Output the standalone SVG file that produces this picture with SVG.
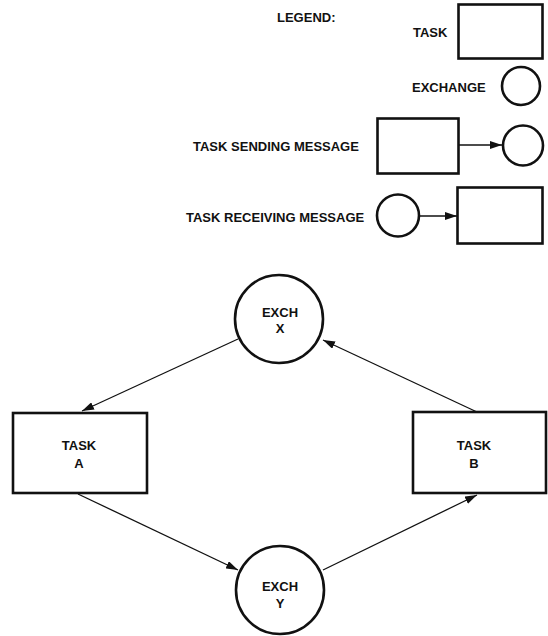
<svg xmlns="http://www.w3.org/2000/svg" width="548" height="636" viewBox="0 0 548 636">
<style>
.t{font-family:"Liberation Sans",Arial,sans-serif;font-weight:bold;font-size:13px;fill:#111}
.c{text-anchor:middle}
.box{fill:#fff;stroke:#111;stroke-width:2.6}
.ln{fill:none;stroke:#111;stroke-width:1.3}
</style>
<defs>
<marker id="ah" markerUnits="userSpaceOnUse" markerWidth="12" markerHeight="8" refX="12" refY="4" orient="auto">
<path d="M0,0 L12,4 L0,8 z" fill="#111"/>
</marker>
</defs>
<rect width="548" height="636" fill="#fff"/>
<g id="legend">
<text class="t" x="277" y="22">LEGEND:</text>
<text class="t" x="413" y="37">TASK</text>
<rect class="box" x="458.5" y="4.5" width="84" height="54"/>
<text class="t" x="412" y="92">EXCHANGE</text>
<circle class="box" cx="521" cy="86" r="19"/>
<text class="t" x="193" y="151">TASK SENDING MESSAGE</text>
<rect class="box" x="377.5" y="118.5" width="81" height="55"/>
<line class="ln" x1="459" y1="145" x2="502" y2="145" marker-end="url(#ah)"/>
<circle class="box" cx="523" cy="145.5" r="20"/>
<text class="t" x="186" y="222">TASK RECEIVING MESSAGE</text>
<circle class="box" cx="398" cy="215.5" r="21"/>
<line class="ln" x1="419" y1="216" x2="457" y2="216" marker-end="url(#ah)"/>
<rect class="box" x="457.5" y="187.5" width="85" height="56"/>
</g>
<g id="connectors">
<line class="ln" x1="238" y1="339" x2="82" y2="411" marker-end="url(#ah)"/>
<line class="ln" x1="477" y1="412" x2="323" y2="340" marker-end="url(#ah)"/>
<line class="ln" x1="78" y1="494" x2="238" y2="570" marker-end="url(#ah)"/>
<line class="ln" x1="323" y1="570" x2="477" y2="495" marker-end="url(#ah)"/>
</g>
<g id="exchX">
<circle class="box" cx="279" cy="319" r="44"/>
<text class="t c" x="280" y="317">EXCH</text>
<text class="t c" x="280" y="333">X</text>
</g>
<g id="taskA">
<rect class="box" x="13" y="413" width="134" height="80"/>
<text class="t c" x="79" y="450">TASK</text>
<text class="t c" x="79" y="468">A</text>
</g>
<g id="taskB">
<rect class="box" x="413" y="412" width="133" height="81"/>
<text class="t c" x="474" y="450">TASK</text>
<text class="t c" x="474" y="468">B</text>
</g>
<g id="exchY">
<circle class="box" cx="280" cy="590" r="44"/>
<text class="t c" x="280" y="591">EXCH</text>
<text class="t c" x="280" y="608">Y</text>
</g>
</svg>
